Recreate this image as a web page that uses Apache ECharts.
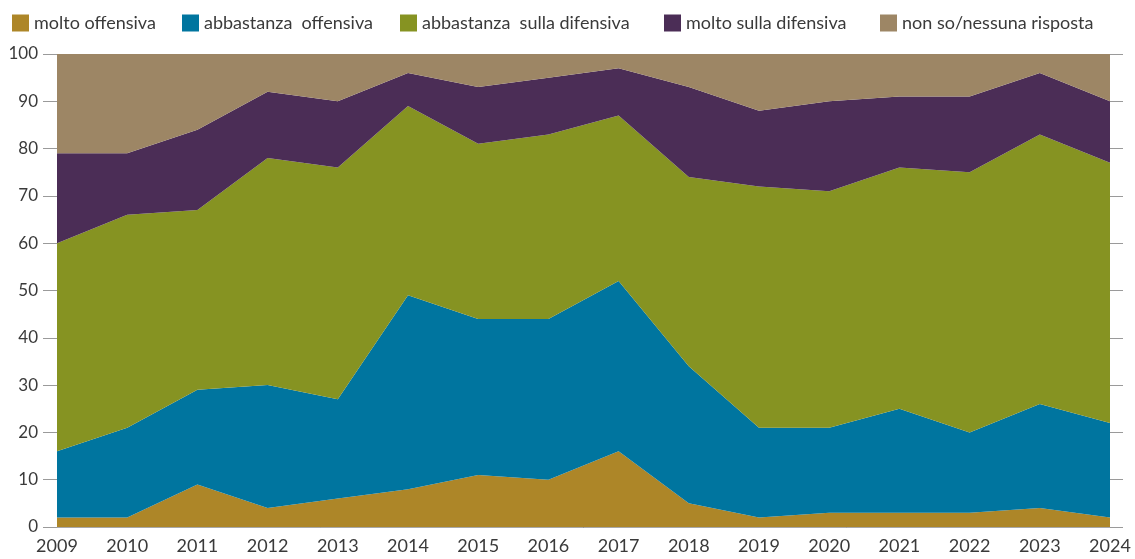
<!DOCTYPE html>
<html>
<head>
<meta charset="utf-8">
<script src="https://cdn.jsdelivr.net/npm/echarts@6/dist/echarts.min.js"></script>
<style>
  html, body { margin: 0; padding: 0; background: #fff; }
  #chart { width: 1135px; height: 559px; }
</style>
</head>
<body>
<div id="chart"></div>
<script>
// Survey years
const years = ['2009','2010','2011','2012','2013','2014','2015','2016','2017','2018','2019','2020','2021','2022','2023','2024'];

// Shares per answer (percent), stacked bottom to top
const moltoOffensiva      = [2, 2, 9, 4, 6, 8, 11, 10, 16, 5, 2, 3, 3, 3, 4, 2];
const abbastanzaOffensiva = [14, 19, 20, 26, 21, 41, 33, 34, 36, 29, 19, 18, 22, 17, 22, 20];
const abbastanzaDifensiva = [44, 45, 38, 48, 49, 40, 37, 39, 35, 40, 51, 50, 51, 55, 57, 55];
const moltoDifensiva      = [19, 13, 17, 14, 14, 7, 12, 12, 10, 19, 16, 19, 15, 16, 13, 13];
const nonSo               = [21, 21, 16, 8, 10, 4, 7, 5, 3, 7, 12, 10, 9, 9, 4, 10];

const seriesNames = ['molto offensiva', 'abbastanza  offensiva', 'abbastanza  sulla difensiva', 'molto sulla difensiva', 'non so/nessuna risposta'];
const seriesColors = ['#ad8628', '#00759f', '#869322', '#4b2d56', '#9d8665'];
const seriesData = [moltoOffensiva, abbastanzaOffensiva, abbastanzaDifensiva, moltoDifensiva, nonSo];

// left edge of each legend entry
const legendLeft = [7, 177, 395, 659, 875];

const FONT = 'Lato, "Open Sans", sans-serif';
const TEXT = '#3a3a3a';

const chart = echarts.init(document.getElementById('chart'));

const yBase = {
  type: 'value', min: 0, max: 100, interval: 10,
  splitLine: { show: false },
  axisLine: { show: false }
};

chart.setOption({
  animation: false,
  legend: seriesNames.map((n, i) => ({
    left: legendLeft[i], top: 9,
    icon: 'rect', itemWidth: 17, itemHeight: 17, itemGap: 0,
    textStyle: { fontFamily: FONT, fontSize: 18, color: TEXT },
    data: [n]
  })),
  grid: { left: 57, right: 25, top: 54, bottom: 32, containLabel: false },
  xAxis: [
    {
      type: 'category', data: years, boundaryGap: false,
      axisLine: { lineStyle: { color: '#1e1e1e', width: 1 } },
      axisTick: { show: false },
      axisLabel: { fontFamily: FONT, fontSize: 18, color: TEXT, margin: 10 }
    },
    {
      // thin frame along the 100 line
      type: 'category', data: years, boundaryGap: false, position: 'top',
      axisLine: { lineStyle: { color: '#a8a8a8', width: 1 } },
      axisTick: { show: false }, axisLabel: { show: false }
    }
  ],
  yAxis: [
    Object.assign({}, yBase, {
      position: 'left',
      axisTick: { show: true, length: 14, lineStyle: { color: '#9a9a9a' } },
      axisLabel: { fontFamily: FONT, fontSize: 17, color: TEXT, margin: 19 }
    }),
    Object.assign({}, yBase, {
      position: 'right',
      axisTick: { show: true, length: 13, lineStyle: { color: '#9a9a9a' } },
      axisLabel: { show: false }
    })
  ],
  series: seriesData.map((d, i) => ({
    name: seriesNames[i],
    type: 'line',
    stack: 'total',
    data: d,
    symbol: 'none',
    lineStyle: { width: 0 },
    areaStyle: { color: seriesColors[i], opacity: 1 },
    itemStyle: { color: seriesColors[i] },
    z: 2
  }))
});
</script>
</body>
</html>
